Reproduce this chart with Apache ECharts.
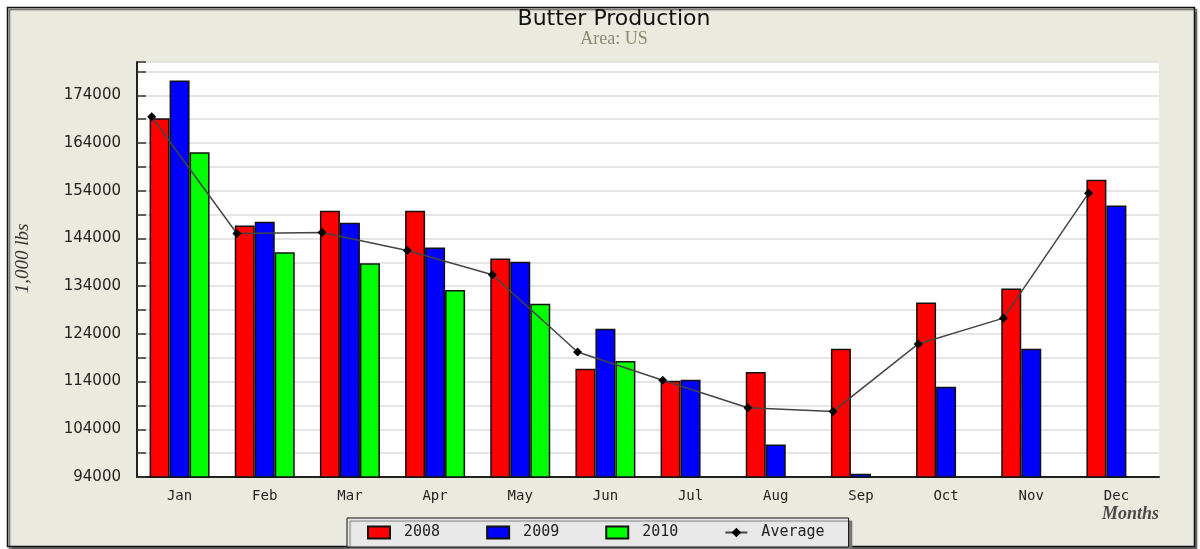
<!DOCTYPE html>
<html>
<head>
<meta charset="utf-8">
<title>Butter Production</title>
<script src="https://cdn.jsdelivr.net/npm/echarts@6/dist/echarts.min.js"></script>
<style>
html, body { margin: 0; padding: 0; background: #fff; }
#chart { width: 1200px; height: 549px; }
</style>
</head>
<body>
<div id="chart"></div>
<script>
var months = ['Jan', 'Feb', 'Mar', 'Apr', 'May', 'Jun', 'Jul', 'Aug', 'Sep', 'Oct', 'Nov', 'Dec'];
var y2008 = [169200, 146700, 149800, 149800, 139800, 116700, 114200, 116000, 120900, 130600, 133500, 156300];
var y2009 = [177100, 147500, 147300, 142100, 139100, 125100, 114400, 100800, 94700, 112900, 120900, 150900];
var y2010 = [162100, 141100, 138800, 133200, 130300, 118300, null, null, null, null, null, null];
var average = [169500, 145050, 145250, 141500, 136400, 120200, 114300, 108500, 107750, 121900, 127300, 153500];

function barSeries(name, data, color) {
	return {
		name: name,
		type: 'bar',
		data: data,
		barWidth: 20,
		barGap: 0,
		itemStyle: {
			color: color,
			borderColor: '#111',
			borderWidth: 1.5
		}
	};
}

var chart = echarts.init(document.getElementById('chart'));

chart.setOption({
	backgroundColor: '#fff',
	animation: false,
	graphic: [ {
		type: 'rect',
		z: -10,
		silent: true,
		shape: { x: 7.5, y: 7.5, width: 1187, height: 539 },
		style: {
			fill: '#ebeadf',
			stroke: '#111',
			lineWidth: 1.5,
			shadowColor: '#666',
			shadowOffsetX: 2,
			shadowOffsetY: 2,
			shadowBlur: 1
		}
	} ],
	title: {
		text: 'Butter Production',
		subtext: 'Area: US',
		left: 609,
		top: 3,
		textAlign: 'center',
		itemGap: 0,
		textStyle: {
			fontFamily: 'DejaVu Sans',
			fontSize: 22,
			fontWeight: 'normal',
			color: '#111'
		},
		subtextStyle: {
			fontFamily: 'Liberation Serif',
			fontSize: 18,
			color: '#8c8b72'
		}
	},
	legend: {
		left: 347,
		top: 518,
		padding: [ 7, 24, 7, 20 ],
		itemWidth: 22,
		itemHeight: 12,
		itemGap: 46,
		backgroundColor: '#e8e8e8',
		borderColor: '#111',
		borderWidth: 1,
		borderRadius: 0,
		shadowColor: '#777',
		shadowOffsetX: 3,
		shadowOffsetY: 3,
		shadowBlur: 1,
		textStyle: {
			fontFamily: 'DejaVu Sans Mono',
			fontSize: 15,
			color: '#222',
			padding: [ 0, 0, 0, 9 ]
		},
		data: [
			{ name: '2008', icon: 'rect' },
			{ name: '2009', icon: 'rect' },
			{ name: '2010', icon: 'rect' },
			'Average'
		]
	},
	grid: {
		left: 137,
		right: 41,
		top: 62,
		bottom: 72,
		show: true,
		backgroundColor: '#fff',
		borderWidth: 0
	},
	xAxis: [ {
		type: 'category',
		data: months,
		name: 'Months',
		nameLocation: 'end',
		nameGap: 0,
		nameTextStyle: {
			fontFamily: 'Liberation Serif',
			fontStyle: 'italic',
			fontWeight: 'bold',
			fontSize: 18,
			color: '#4a4a4a',
			align: 'right',
			verticalAlign: 'top',
			padding: [ 28, 0, 0, 0 ]
		},
		axisLine: { onZero: false, lineStyle: { color: '#222', width: 2 } },
		axisTick: { inside: true, length: 7, interval: 0, lineStyle: { color: '#222', width: 1.5 } },
		axisLabel: {
			fontFamily: 'DejaVu Sans Mono',
			fontSize: 14,
			color: '#222',
			margin: 12
		},
		splitLine: { show: false }
	}, {
		type: 'value',
		show: false,
		min: -0.173,
		max: 11.827,
		position: 'bottom'
	} ],
	yAxis: {
		type: 'value',
		min: 94000,
		max: 181000,
		interval: 5000,
		name: '1,000 lbs',
		nameLocation: 'middle',
		nameGap: 105,
		nameTextStyle: {
			fontFamily: 'Liberation Serif',
			fontStyle: 'italic',
			fontSize: 19,
			color: '#333',
			padding: [ 0, 0, 0, 22 ]
		},
		axisLine: { show: true, onZero: false, lineStyle: { color: '#222', width: 2 } },
		axisTick: { show: true, inside: true, length: 9, lineStyle: { color: '#333', width: 1.5 } },
		axisLabel: {
			fontFamily: 'DejaVu Sans',
			fontSize: 15,
			color: '#222',
			margin: 16,
			formatter: function (v) {
				return (v - 94000) % 10000 === 0 ? String(v) : '';
			}
		},
		splitLine: { lineStyle: { color: '#dcdcdc', width: 1.5 } }
	},
	series: [
		barSeries('2008', y2008, '#ff0000'),
		barSeries('2009', y2009, '#0000ff'),
		barSeries('2010', y2010, '#00ff00'),
		{
			name: 'Average',
			type: 'line',
			xAxisIndex: 1,
			data: average.map(function (v, i) { return [ i, v ]; }),
			symbol: 'diamond',
			symbolSize: 9,
			itemStyle: { color: '#000' },
			lineStyle: { color: '#444', width: 1.5 },
			z: 5
		}
	]
});
</script>
</body>
</html>
